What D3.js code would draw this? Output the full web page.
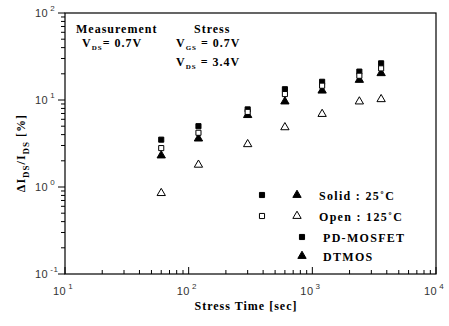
<!DOCTYPE html>
<html>
<head>
<meta charset="utf-8">
<script src="https://cdn.jsdelivr.net/npm/d3@7"></script>
<style>
  body { margin: 0; background: #fff; }
  .lbl { font-family: "Liberation Serif", "Times New Roman", serif; font-weight: bold; font-size: 12px; fill: #000; letter-spacing: 1px; }
  .tick text { font-family: "Liberation Sans", Arial, sans-serif; font-size: 11px; fill: #333; letter-spacing: 0.5px; }
</style>
</head>
<body>
<svg id="chart"></svg>
<script>
// stress times (sec)
const times = [60, 120, 300, 600, 1200, 2400, 3600];
// delta Ids / Ids [%]
const pdSolid = [3.5, 5.0, 7.8, 13.3, 16.2, 21.2, 26.4];   // PD-MOSFET, 25C
const pdOpen = [2.8, 4.2, 7.3, 11.7, 14.6, 19.0, 23.1];    // PD-MOSFET, 125C
const dtSolid = [2.3, 3.6, 6.7, 9.6, 12.8, 17.0, 20.3];    // DTMOS, 25C
const dtOpen = [0.85, 1.8, 3.1, 4.85, 6.9, 9.6, 10.2];     // DTMOS, 125C
const xTicks = [10, 100, 1000, 10000];
const yTicks = [0.1, 1, 10, 100];

const width = 449, height = 326;
const margin = { top: 13, right: 13, bottom: 52, left: 65 };

const svg = d3.select('#chart').attr('width', width).attr('height', height);

const x = d3.scaleLog().domain([10, 10000]).range([margin.left, width - margin.right]);
const y = d3.scaleLog().domain([0.1, 100]).range([height - margin.bottom, margin.top]);

// frame
svg.append('rect')
  .attr('x', margin.left).attr('y', margin.top)
  .attr('width', x(10000) - x(10)).attr('height', y(0.1) - y(100))
  .attr('fill', 'none').attr('stroke', '#000').attr('stroke-width', 1.2);

// minor ticks for each decade
function minors(lo, hi) {
  const out = [];
  for (let d = lo; d < hi; d *= 10) {
    for (let k = 2; k <= 9; k++) out.push(d * k);
  }
  return out;
}

function expLabel(sel, v) {
  const e = Math.round(Math.log10(v));
  sel.text('10');
  sel.append('tspan').attr('dx', 2).attr('dy', -6).attr('font-size', 8).text(e);
}

// x axis, ticks point inward
const gx = svg.append('g').attr('transform', `translate(0,${y(0.1)})`);
gx.selectAll('.minor').data(minors(10, 10000)).enter().append('line')
  .attr('x1', d => x(d)).attr('x2', d => x(d)).attr('y1', 0).attr('y2', -4)
  .attr('stroke', '#000');
gx.selectAll('.major').data(xTicks).enter().append('line')
  .attr('x1', d => x(d)).attr('x2', d => x(d)).attr('y1', 0).attr('y2', -7)
  .attr('stroke', '#000');
const xt = gx.selectAll('.tick').data(xTicks).enter().append('g').attr('class', 'tick');
xt.append('text')
  .attr('x', d => x(d) - 12).attr('y', 21)
  .each(function (d) { expLabel(d3.select(this), d); });

// y axis, ticks point outward
const gy = svg.append('g').attr('transform', `translate(${x(10)},0)`);
gy.selectAll('.minor').data(minors(0.1, 100)).enter().append('line')
  .attr('y1', d => y(d)).attr('y2', d => y(d)).attr('x1', 0).attr('x2', -4)
  .attr('stroke', '#000');
gy.selectAll('.major').data(yTicks).enter().append('line')
  .attr('y1', d => y(d)).attr('y2', d => y(d)).attr('x1', 0).attr('x2', -7)
  .attr('stroke', '#000');
const yt = gy.selectAll('.tick').data(yTicks).enter().append('g').attr('class', 'tick');
yt.append('text')
  .attr('x', -30).attr('y', d => y(d) + 4)
  .each(function (d) { expLabel(d3.select(this), d); });

// markers
const sq = d3.symbol().type(d3.symbolSquare).size(26);
const tri = d3.symbol().type(d3.symbolTriangle).size(30);

function drawSeries(vals, shape, filled) {
  svg.append('g').selectAll('path').data(vals).enter().append('path')
    .attr('d', shape)
    .attr('transform', (d, i) => `translate(${x(times[i])},${y(d)})`)
    .attr('fill', filled ? '#000' : '#fff')
    .attr('stroke', '#000').attr('stroke-width', 1);
}
drawSeries(dtSolid, tri, true);
drawSeries(pdSolid, sq, true);
drawSeries(pdOpen, sq, false);
drawSeries(dtOpen, tri, false);

// annotations
function sub(g, xp, yp, main, s, rest) {
  const t = g.append('text').attr('class', 'lbl').attr('x', xp).attr('y', yp);
  t.append('tspan').text(main);
  t.append('tspan').attr('dy', 3).attr('font-size', 7).text(s);
  t.append('tspan').attr('dy', -3).text(rest);
}
svg.append('text').attr('class', 'lbl').attr('x', 76).attr('y', 33).text('Measurement');
sub(svg, 82, 47, 'V', 'DS', '= 0.7V');
svg.append('text').attr('class', 'lbl').attr('x', 194).attr('y', 33).text('Stress');
sub(svg, 176, 47, 'V', 'GS', ' =  0.7V');
sub(svg, 176, 66, 'V', 'DS', ' =  3.4V');

// legend
const legend = svg.append('g');
const rows = [
  { yv: 195, marks: [[262, sq, true], [297, tri, true]], text: 'Solid : 25\u02DAC', tx: 319 },
  { yv: 216, marks: [[262, sq, false], [297, tri, false]], text: 'Open : 125\u02DAC', tx: 319 },
  { yv: 237, marks: [[302, sq, true]], text: 'PD-MOSFET', tx: 323 },
  { yv: 256, marks: [[302, tri, true]], text: 'DTMOS', tx: 323 }
];
rows.forEach(r => {
  r.marks.forEach(m => {
    legend.append('path').attr('d', m[1])
      .attr('transform', `translate(${m[0]},${r.yv})`)
      .attr('fill', m[2] ? '#000' : '#fff').attr('stroke', '#000');
  });
  legend.append('text').attr('class', 'lbl').attr('x', r.tx).attr('y', r.yv + 5)
    .attr('font-size', 13).style('letter-spacing', '1.3px').text(r.text);
});

// axis titles
svg.append('text').attr('class', 'lbl').attr('x', 246).attr('y', 310)
  .attr('text-anchor', 'middle').attr('font-size', 13).text('Stress Time [sec]');

const yl = svg.append('text').attr('class', 'lbl').attr('font-size', 14)
  .attr('transform', `translate(25,153) rotate(-90)`).attr('text-anchor', 'middle');
yl.append('tspan').text('\u0394I');
yl.append('tspan').attr('dy', 4).attr('font-size', 9).text('DS');
yl.append('tspan').attr('dy', -4).text('/I');
yl.append('tspan').attr('dy', 4).attr('font-size', 9).text('DS');
yl.append('tspan').attr('dy', -4).text(' [%]');
</script>
</body>
</html>
